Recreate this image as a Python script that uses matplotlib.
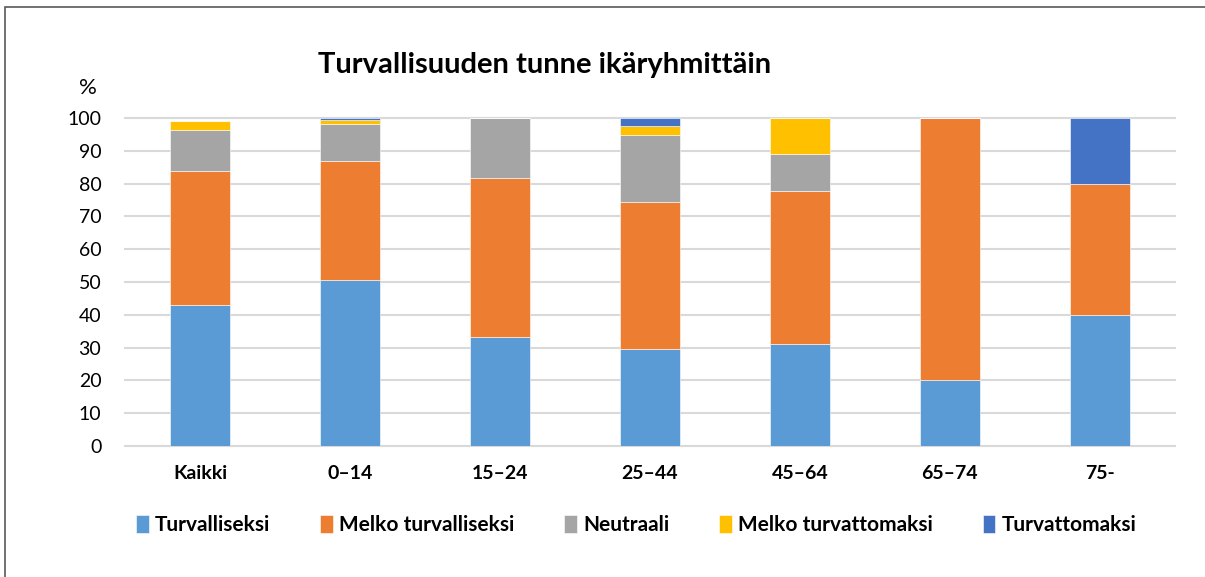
import matplotlib
matplotlib.use("Agg")
from matplotlib import pyplot as plt
from matplotlib.patches import Rectangle
import numpy as np

plt.rcParams['font.family'] = ['Lato', 'DejaVu Sans']

# Data
groups = ['Kaikki', '0–14', '15–24', '25–44', '45–64', '65–74', '75-']
turvalliseksi = [43.0, 50.6, 33.3, 29.6, 31.0, 20.0, 40.0]
melko_turvalliseksi = [40.8, 36.4, 48.5, 44.8, 46.8, 80.0, 40.0]
neutraali = [12.6, 11.2, 18.2, 20.5, 11.1, 0, 0]
melko_turvattomaksi = [2.7, 1.2, 0, 2.6, 11.1, 0, 0]
turvattomaksi = [0, 0.6, 0, 2.5, 0, 0, 20.0]

series = [
    ('Turvalliseksi', turvalliseksi, '#5B9BD5'),
    ('Melko turvalliseksi', melko_turvalliseksi, '#ED7D31'),
    ('Neutraali', neutraali, '#A5A5A5'),
    ('Melko turvattomaksi', melko_turvattomaksi, '#FFC000'),
    ('Turvattomaksi', turvattomaksi, '#4472C4'),
]

fig = plt.figure(figsize=(12.05, 5.77), dpi=100)
ax = fig.add_axes([0.1037, 0.227, 0.8713, 0.5685])

x = np.arange(len(groups))
bottom = np.zeros(len(groups))
for name, vals, col in series:
    ax.bar(x, vals, 0.4, bottom=bottom, color=col, label=name,
           edgecolor='white', linewidth=0.4, zorder=3)
    bottom = bottom + np.array(vals)

ax.set_xlim(-0.5, len(groups) - 0.5)
ax.set_ylim(0, 100)
ax.set_yticks(range(0, 101, 10))
ax.tick_params(axis='y', length=0, pad=17, labelsize=14)
ax.tick_params(axis='x', length=0, pad=14, labelsize=14)
ax.set_xticks(x)
ax.set_xticklabels(groups, fontweight='bold')
ax.yaxis.grid(True, color='#d9d9d9', linewidth=1.5, zorder=0)
ax.set_axisbelow(True)
for s in ax.spines.values():
    s.set_visible(False)
for gl in ax.get_ygridlines():
    gl.set_clip_on(False)

fig.text(0.073, 0.847, '%', fontsize=16, ha='center', va='center')
fig.text(0.452, 0.887, 'Turvallisuuden tunne ikäryhmittäin', fontsize=21,
         fontweight='bold', ha='center', va='center')

leg = fig.legend(loc='center', bbox_to_anchor=(0.528, 0.09), ncol=5, frameon=False,
                 prop={'weight': 'bold', 'size': 15}, handlelength=0.6,
                 handleheight=0.9, handletextpad=0.3, columnspacing=2.4)

# outer border
fig.patches.append(Rectangle((0.004, -0.01), 1.1, 0.998, transform=fig.transFigure,
                             fill=False, edgecolor='#595959', linewidth=1.2))

fig.savefig('out.png', dpi=100)
